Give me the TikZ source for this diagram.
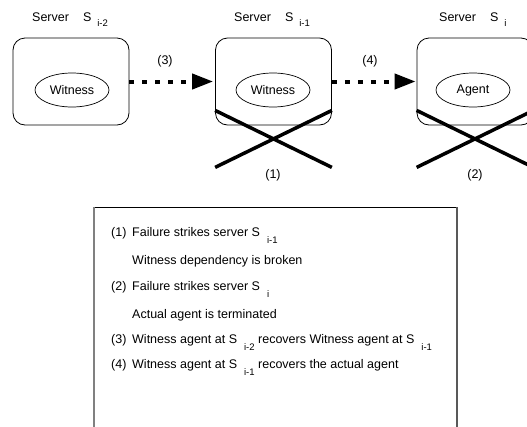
\documentclass[tikz,border=0pt]{standalone}
\usepackage{fontspec}
\setmainfont{Liberation Sans}
\usetikzlibrary{arrows.meta,shapes.geometric}
\newcommand{\sbs}[1]{\hspace{6pt}\raisebox{-5pt}{\fontsize{9.5}{10}\selectfont #1}}
\newcommand{\lsbs}[1]{\hspace{7pt}\raisebox{-7pt}{\fontsize{9.5}{10}\selectfont #1}}
\newcommand{\lbl}[1]{\makebox[21pt][l]{#1}}
\begin{document}
\begin{tikzpicture}[x=1pt,y=-1pt,
  font=\fontsize{12.5}{14}\selectfont,
  server/.style={draw, rounded corners=12pt, minimum width=116pt, minimum height=87pt, line width=0.8pt, inner sep=0pt},
  proc/.style={draw, ellipse, minimum width=74pt, minimum height=34pt, inner sep=0pt, line width=0.7pt},
  title/.style={anchor=base west, inner sep=0pt},
  dotarrow/.style={line width=4pt, dash pattern=on 5pt off 8pt, -{Triangle[length=21pt,width=15pt]}},
  crossline/.style={line width=3.5pt},
  num/.style={inner sep=0pt},
  legtext/.style={anchor=base west, inner sep=0pt}
]
\useasboundingbox (0,0) rectangle (527,426);

% servers
\node[server] (b1) at (71,81.5) {};
\node[server] (b2) at (273.5,81.5) {};
\node[server] (b3) at (475,81.5) {};

\node[proc] (e1) at (72,90) {Witness};
\node[proc] (e2) at (273,90) {Witness};
\node[proc] (e3) at (473,90) {Agent};

% titles
\node[title] (t1) at (32,21.5) {Server\hspace{14pt}S\sbs{i-2}};
\node[title] (t2) at (234,21.5) {Server\hspace{14pt}S\sbs{i-1}};
\node[title] (t3) at (439,21.5) {Server\hspace{14pt}S\sbs{i}};

% arrows
\draw[dotarrow] (b1.east) -- ([xshift=-2pt]b2.west);
\draw[dotarrow] (b2.east) -- ([xshift=-1pt]b3.west);
\node[num] (l3) at (165,61) {(3)};
\node[num] (l4) at (370,61) {(4)};

% crosses
\coordinate (c2a) at ([yshift=15pt]b2.south west);
\coordinate (c2b) at ([yshift=-42pt]b2.south east);
\coordinate (c2c) at ([yshift=-42pt]b2.south west);
\coordinate (c2d) at ([yshift=15pt]b2.south east);
\draw[crossline] (c2a) -- (c2b);
\draw[crossline] (c2c) -- (c2d);
\coordinate (c3a) at ([yshift=15pt]b3.south west);
\coordinate (c3b) at ([yshift=-42pt]b3.south east);
\coordinate (c3c) at ([yshift=-42pt]b3.south west);
\coordinate (c3d) at ([yshift=15pt]b3.south east);
\draw[crossline] (c3a) -- (c3b);
\draw[crossline] (c3c) -- (c3d);
\node[num] (l1) at (273,175) {(1)};
\node[num] (l2) at (475,175) {(2)};

% legend box
\draw[line width=1pt] (94,207) -- (457,207);
\draw[line width=1.2pt, gray] (94,207) -- (94,440);
\draw[line width=1.4pt, black!65] (457,207) -- (457,440);

\node[legtext] (g1) at (111,236.5) {\lbl{(1)}Failure strikes server S\lsbs{i-1}};
\node[legtext] (g1b) at (132,264.5) {Witness dependency is broken};
\node[legtext] (g2) at (111,290.5) {\lbl{(2)}Failure strikes server S\lsbs{i}};
\node[legtext] (g2b) at (132,318.5) {Actual agent is terminated};
\node[legtext] (g3) at (111,343.5) {\lbl{(3)}Witness agent at S\lsbs{i-2} recovers Witness agent at S\lsbs{i-1}};
\node[legtext] (g4) at (111,368.5) {\lbl{(4)}Witness agent at S\lsbs{i-1} recovers the actual agent};
\end{tikzpicture}
\end{document}
